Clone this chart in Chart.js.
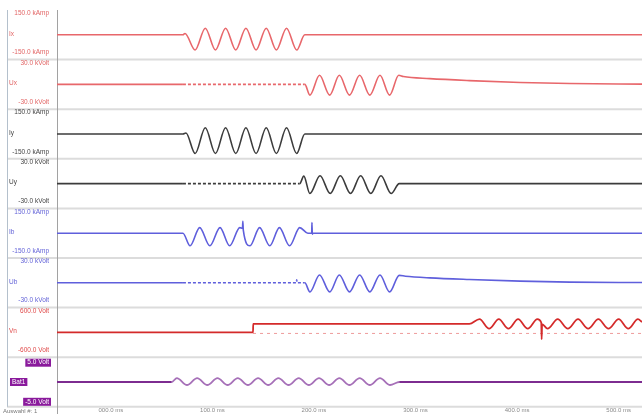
<!DOCTYPE html>
<html>
<head>
<meta charset="utf-8">
<script src="https://cdn.jsdelivr.net/npm/chart.js@4"></script>
<style>
  html, body { margin: 0; padding: 0; background: #fff; }
</style>
</head>
<body>
<canvas id="scope" width="642" height="414"></canvas>
<script>
// channel strips, top to bottom
const CHANNELS = ["Ix", "Ux", "Iy", "Uy", "Ib", "Ub", "Vn", "Bat1"];
const RANGES = [150, 30, 150, 30, 150, 30, 600, 5];
const UNITS = ["kAmp", "kVolt", "kAmp", "kVolt", "kAmp", "kVolt", "Volt", "Volt"];
const COLORS = ["#e8676b", "#e8676b", "#3c3c3c", "#3c3c3c", "#5f5fdc", "#5f5fdc", "#d42a2a", "#7d2c90"];
const LABEL_COLORS = ["#e26565", "#e26565", "#444444", "#444444", "#6464d8", "#6464d8", "#e04a4a", "#8a1a9c"];

const TIME_TICKS = [0, 100, 200, 300, 400, 500];
const TIME_MIN = -53;
const TIME_MAX = 523;

// [ms, value] samples per channel
const ix = [[-53, 0], [71, 0], [73, 8], [83, -92], [93, 40], [103, -92], [113, 40], [123, -92], [133, 40],
  [143, -92], [153, 40], [163, -92], [173, 40], [183, -92], [191, 0], [523, 0]];
const ux = [[-53, 0], [71, 0], [191, 0], [196, -13], [205.5, 11], [215.5, -13], [225, 11], [235, -13], [245, 11],
  [255, -13], [265, 11], [274.5, -13], [283.5, 11], [288, 9.5], [314, 7], [353, 4.6], [403, 2.3], [452, 1], [523, 0.3]];
const iy = [[-53, 0], [71, 0], [74, 6], [83, -118], [93, 38], [103, -118], [113, 38], [123, -118], [133, 38],
  [143, -118], [153, 38], [163, -118], [173, 38], [183, -118], [191, 0], [523, 0]];
const uy = [[-53, 0], [71, 0], [186, 0], [190, 9], [196, -12], [206, 9.5], [216, -12], [226, 9.5], [236, -12],
  [246, 9.5], [256, -12], [266, 9.5], [276, -12], [284, 0], [523, 0]];
const ib = [[-53, 0], [71, 0], [78, -76], [87.5, 34], [97.5, -76], [107.5, 34], [117, -76], [127, 34], [129.6, 30],
  [130, 72], [130.4, 20], [137, -76], [146.5, 34], [156.5, -76], [166, 34], [176, -76], [186, 34], [194, 0],
  [197.8, 0], [198, 65], [198.4, -6], [199, 0], [523, 0]];
const ub = [[-53, 0], [71, 0], [182.5, 0], [183, 3.6], [183.5, 0], [191, 0], [196, -11], [205.5, 9.5], [215.5, -11],
  [225, 9.5], [235, -11], [245, 9.5], [255, -11], [265, 9.5], [274.5, -11], [284, 9], [290, 8], [314, 6],
  [353, 4], [403, 2], [452, 0.8], [523, 0.3]];
const vn = [[-53, 0], [140, 0], [140.2, 205], [353, 205], [363, 320], [372.5, 90], [382, 320], [391.5, 90],
  [401, 320], [410.5, 90], [420, 320], [423.8, 240], [424.2, -165], [424.6, 200], [430, 90], [440, 320],
  [450, 90], [460, 320], [470, 90], [480, 320], [490, 90], [500, 320], [509.5, 90], [519, 320], [523, 250]];
const vnRef = [[140, -25], [523, -25]];
const bat = [[-53, 0], [60, 0], [65, 0.8], [75, -0.6], [85, 0.8], [95, -0.6], [105, 0.8], [115, -0.6], [125, 0.8],
  [135, -0.6], [145, 0.8], [155, -0.6], [165, 0.8], [175, -0.6], [185, 0.8], [195, -0.6], [205, 0.8],
  [215, -0.6], [225, 0.8], [235, -0.6], [245, 0.8], [255, -0.6], [265, 0.8], [275, -0.6], [284, 0], [523, 0]];

const TRACES = [ix, ux, iy, uy, ib, ub, vn, bat];

const FONT = "'Liberation Sans', Arial, sans-serif";

function dashedBetween(from, to) {
  return (ctx) => (ctx.p0.parsed.x >= from && ctx.p1.parsed.x <= to) ? [3, 2] : undefined;
}

function trace(points, i) {
  return {
    data: points.map(([x, y]) => ({ x, y })),
    yAxisID: "y" + i,
    borderColor: COLORS[i],
    borderWidth: i >= 6 ? 1.8 : 1.6,
    pointRadius: 0,
    fill: false,
    // monotone keeps flat stretches flat and spikes from overshooting
    cubicInterpolationMode: "monotone",
  };
}

const datasets = TRACES.map((points, i) => trace(points, i));
// voltage strips idle before their burst
datasets[1].segment = { borderDash: dashedBetween(70, 192) };
datasets[3].segment = { borderDash: dashedBetween(70, 187) };
datasets[5].segment = { borderDash: dashedBetween(70, 192) };
datasets[7].segment = {
  borderColor: (ctx) => (ctx.p0.parsed.x >= 60 && ctx.p1.parsed.x <= 284) ? "#a670b8" : undefined,
};
datasets.push({
  data: vnRef.map(([x, y]) => ({ x, y })),
  yAxisID: "y6",
  borderColor: "#ee9a9a",
  borderWidth: 1,
  borderDash: [3, 4],
  pointRadius: 0,
});

const scales = {
  x: {
    type: "linear",
    min: TIME_MIN,
    max: TIME_MAX,
    grid: { display: false, drawTicks: false },
    border: { display: false },
    afterBuildTicks: (axis) => { axis.ticks = TIME_TICKS.map((value) => ({ value })); },
    ticks: {
      autoSkip: false,
      maxRotation: 0,
      padding: 0,
      color: "#8a8a8a",
      font: { family: FONT, size: 6 },
      callback: (value) => String(value).padStart(3, "0") + ".0 ms",
    },
  },
};
CHANNELS.forEach((name, i) => {
  scales["y" + i] = {
    type: "linear",
    position: "left",
    stack: "scope",
    stackWeight: 1,
    weight: CHANNELS.length - i,
    min: -RANGES[i],
    max: RANGES[i],
    ticks: { display: false },
    grid: { display: false, drawTicks: false },
    border: { display: false },
  };
});

function boxedText(ctx, text, x, y, align) {
  const w = ctx.measureText(text).width;
  const left = align === "right" ? x - w : x;
  ctx.fillStyle = "#8a1a9c";
  ctx.fillRect(left - 2, y - 4, w + 4, 8);
  ctx.fillStyle = "#ffffff";
  ctx.fillText(text, x, y);
}

// strip separators, frame and channel captions
const scopePanel = {
  id: "scopePanel",
  beforeDraw(chart) {
    const ctx = chart.ctx;
    const area = chart.chartArea;
    ctx.save();
    ctx.fillStyle = "#ffffff";
    ctx.fillRect(0, 0, chart.width, chart.height);
    ctx.strokeStyle = "#dcdcdc";
    ctx.lineWidth = 2;
    CHANNELS.forEach((name, i) => {
      const y = chart.scales["y" + i].bottom;
      ctx.beginPath();
      ctx.moveTo(7, y);
      ctx.lineTo(chart.width, y);
      ctx.stroke();
    });
    ctx.lineWidth = 1;
    ctx.strokeStyle = "#b4c0cc";
    ctx.beginPath();
    ctx.moveTo(7.5, area.top);
    ctx.lineTo(7.5, area.bottom);
    ctx.stroke();
    ctx.strokeStyle = "#a2a2a2";
    ctx.beginPath();
    ctx.moveTo(area.left + 0.5, area.top);
    ctx.lineTo(area.left + 0.5, chart.height);
    ctx.stroke();
    ctx.restore();
  },
  afterDraw(chart) {
    const ctx = chart.ctx;
    const area = chart.chartArea;
    ctx.save();
    ctx.textBaseline = "middle";
    CHANNELS.forEach((name, i) => {
      const scale = chart.scales["y" + i];
      const mid = (scale.top + scale.bottom) / 2;
      const top = RANGES[i].toFixed(1) + " " + UNITS[i];
      const bottom = "-" + top;
      ctx.font = "6.5px " + FONT;
      ctx.textAlign = "right";
      if (i === CHANNELS.length - 1) {
        boxedText(ctx, top, 49, scale.top + 5.5, "right");
        boxedText(ctx, bottom, 49, scale.bottom - 5, "right");
        ctx.textAlign = "left";
        boxedText(ctx, name, 12, mid, "left");
      } else {
        ctx.fillStyle = LABEL_COLORS[i];
        ctx.fillText(top, 49, scale.top + 3.5);
        ctx.fillText(bottom, 49, scale.bottom - 7);
        ctx.textAlign = "left";
        ctx.fillText(name, 9, mid - 1);
      }
    });
    ctx.fillStyle = "#7a7a7a";
    ctx.textAlign = "left";
    ctx.font = "6px " + FONT;
    ctx.fillText("Auswahl #: 1", 3, (area.bottom + chart.height) / 2 + 0.5);
    ctx.restore();
  },
};

new Chart(document.getElementById("scope").getContext("2d"), {
  type: "line",
  data: { datasets },
  options: {
    responsive: false,
    animation: false,
    layout: { padding: { left: 57, top: 10, right: 0, bottom: 0 } },
    scales,
    plugins: {
      legend: { display: false },
      title: { display: false },
      tooltip: { enabled: false },
    },
  },
  plugins: [scopePanel],
});
</script>
</body>
</html>
